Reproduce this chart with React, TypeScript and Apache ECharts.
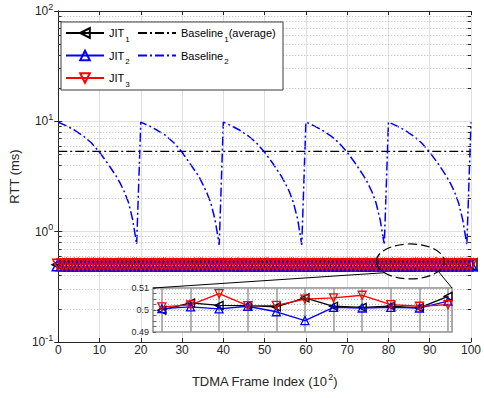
import React, { useEffect, useRef } from "react";
import * as echarts from "echarts";

// TDMA frame index (x 10^2)
const frames = Array.from({ length: 101 }, (_, i) => i);

const jit1 = [
  0.5021, 0.5008, 0.503, 0.5015, 0.4998, 0.5026, 0.5012, 0.5034, 0.5019, 0.5005,
  0.5027, 0.5013, 0.5002, 0.5031, 0.5018, 0.5024, 0.5009, 0.5036, 0.5016, 0.5003,
  0.5022, 0.5029, 0.5011, 0.5017, 0.5033, 0.5006, 0.502, 0.5014, 0.5028, 0.501,
  0.5025, 0.5001, 0.5019, 0.5032, 0.5015, 0.5023, 0.5007, 0.503, 0.5012, 0.5026,
  0.5018, 0.5004, 0.5035, 0.5021, 0.5013, 0.5027, 0.5009, 0.5024, 0.5016, 0.5031,
  0.5006, 0.5022, 0.5014, 0.5029, 0.5011, 0.5033, 0.5019, 0.5002, 0.5025, 0.5017,
  0.5028, 0.501, 0.5023, 0.5015, 0.5034, 0.5008, 0.502, 0.5026, 0.5013, 0.503,
  0.5005, 0.5024, 0.5018, 0.5032, 0.5011, 0.5027, 0.5016, 0.5021, 0.5009, 0.5025,
  0.4999, 0.5032, 0.5021, 0.502, 0.5014, 0.5055, 0.5017, 0.5012, 0.5018, 0.501, 0.5062,
  0.5019, 0.5028, 0.5007, 0.5023, 0.5015, 0.5031, 0.5012, 0.5026, 0.5018, 0.5022,
];
const jit2 = [
  0.5011, 0.5004, 0.5016, 0.4997, 0.5009, 0.5013, 0.5002, 0.5018, 0.5006, 0.4993,
  0.501, 0.5015, 0.5001, 0.5008, 0.4995, 0.5012, 0.5017, 0.5003, 0.5009, 0.5014,
  0.4998, 0.5011, 0.5006, 0.5019, 0.5004, 0.499, 0.5012, 0.5007, 0.5015, 0.5,
  0.5013, 0.5008, 0.4996, 0.5016, 0.5005, 0.5011, 0.5002, 0.5014, 0.4994, 0.5009,
  0.5017, 0.5003, 0.501, 0.5006, 0.4999, 0.5015, 0.5008, 0.5012, 0.4992, 0.5011,
  0.5005, 0.5016, 0.5001, 0.5009, 0.5013, 0.4997, 0.501, 0.5018, 0.5004, 0.5007,
  0.5012, 0.4995, 0.5014, 0.5006, 0.5011, 0.5002, 0.5016, 0.5008, 0.4998, 0.5013,
  0.5009, 0.5015, 0.5003, 0.501, 0.4996, 0.5012, 0.5007, 0.5017, 0.5001, 0.5011,
  0.5006, 0.5014, 0.5005, 0.5017, 0.4992, 0.4952, 0.5012, 0.5009, 0.5012, 0.5009, 0.504,
  0.5008, 0.5013, 0.4999, 0.5011, 0.5004, 0.5016, 0.5007, 0.501, 0.5002, 0.5014,
];
const jit3 = [
  0.5025, 0.5037, 0.5018, 0.5042, 0.5029, 0.5015, 0.5046, 0.5023, 0.5034, 0.5019,
  0.504, 0.5027, 0.5051, 0.5021, 0.5033, 0.5016, 0.5044, 0.5028, 0.5038, 0.5022,
  0.5031, 0.5048, 0.5017, 0.5035, 0.5026, 0.5043, 0.502, 0.5039, 0.5024, 0.5052,
  0.5018, 0.5036, 0.5029, 0.5045, 0.5022, 0.5033, 0.5041, 0.5016, 0.5037, 0.5027,
  0.5049, 0.5021, 0.5034, 0.5025, 0.5043, 0.5019, 0.5038, 0.503, 0.5047, 0.5023,
  0.5035, 0.5018, 0.5044, 0.5028, 0.5039, 0.5021, 0.5032, 0.505, 0.5024, 0.5036,
  0.5019, 0.5041, 0.5027, 0.5046, 0.5022, 0.5034, 0.5017, 0.504, 0.5029, 0.5053,
  0.5024, 0.5037, 0.502, 0.5045, 0.5031, 0.5026, 0.5042, 0.5018, 0.5035, 0.5028,
  0.5014, 0.5023, 0.5074, 0.502, 0.5021, 0.5049, 0.5055, 0.5067, 0.5024, 0.5017, 0.5024,
  0.5039, 0.5022, 0.5044, 0.503, 0.5026, 0.5048, 0.5019, 0.5036, 0.5027, 0.5033,
];

const baseline1X = [0, 100];
const baseline1Y = [5.35, 5.35];

const baseline2X = [
  0, 2, 4, 6, 8, 10, 12, 14, 15, 16, 17, 18, 19,
  20, 22, 24, 26, 28, 30, 32, 34, 35, 36, 37, 38, 39,
  40, 42, 44, 46, 48, 50, 52, 54, 55, 56, 57, 58, 59,
  60, 62, 64, 66, 68, 70, 72, 74, 75, 76, 77, 78, 79,
  80, 82, 84, 86, 88, 90, 92, 94, 95, 96, 97, 98, 99,
  100,
];
const baseline2Y = [
  9.8, 9.1, 8.3, 7.4, 6.4, 5.25, 4.15, 3.2, 2.75, 2.3, 1.85, 1.3, 0.77,
  9.85, 9.1, 8.3, 7.45, 6.4, 5.25, 4.1, 3.2, 2.7, 2.25, 1.8, 1.28, 0.76,
  9.85, 9.1, 8.3, 7.4, 6.4, 5.25, 4.15, 3.2, 2.75, 2.3, 1.82, 1.3, 0.76,
  9.85, 9.1, 8.3, 7.4, 6.4, 5.25, 4.15, 3.2, 2.75, 2.3, 1.82, 1.28, 0.76,
  9.85, 9.1, 8.3, 7.4, 6.4, 5.25, 4.15, 3.2, 2.75, 2.3, 1.82, 1.28, 0.76,
  9.8,
];

const insetFrames = [80, 81, 82, 83, 84, 85, 86, 87, 88, 89, 90];
const insetYLabels = [0.49, 0.5, 0.51];
const yMinor = [
  0.2, 0.3, 0.4, 0.5, 0.6, 0.7, 0.8, 0.9,
  2, 3, 4, 5, 6, 7, 8, 9,
  20, 30, 40, 50, 60, 70, 80, 90,
];

const FONT = "'Liberation Sans', Arial, Helvetica, sans-serif";
const AX = "#262626";

const legendText: Record<string, string> = {
  JIT1: "JIT{sub|1}",
  JIT2: "JIT{sub|2}",
  JIT3: "JIT{sub|3}",
  Baseline1: "Baseline{sub|1}(average)",
  Baseline2: "Baseline{sub|2}",
};

const jitStyles = [
  { name: "JIT1", data: jit1, color: "#000000", rotate: 90, size: 12 },
  { name: "JIT2", data: jit2, color: "#0000ff", rotate: 0, size: 12 },
  { name: "JIT3", data: jit3, color: "#ff0000", rotate: 180, size: 11 },
];

export default function App() {
  const ref = useRef<HTMLDivElement>(null);
  useEffect(() => {
    document.body.style.margin = "0";
    if (!ref.current) return;
    const chart = echarts.init(ref.current, undefined, { renderer: "svg" });

    const legendTextStyle = {
      fontSize: 11,
      fontFamily: FONT,
      color: "#000",
      lineHeight: 12,
      rich: {
        sub: { fontSize: 8, fontFamily: FONT, color: "#000", lineHeight: 10, padding: [12, 0, 0, 1] },
      },
    };

    const mainJit = jitStyles.map((s) => ({
      name: s.name,
      type: "line",
      xAxisIndex: 0,
      yAxisIndex: 0,
      data: frames.map((f, i) => [f, s.data[i]]),
      symbol: "triangle",
      symbolRotate: s.rotate,
      symbolSize: s.size,
      showAllSymbol: true,
      lineStyle: { color: s.color, width: 1.2 },
      itemStyle: { color: "rgba(255,255,255,0)", borderColor: s.color, borderWidth: 1.5 },
      z: 2,
    }));

    const insetJit = jitStyles.map((s) => ({
      name: s.name,
      type: "line",
      xAxisIndex: 2,
      yAxisIndex: 2,
      data: insetFrames.map((f) => [f, s.data[f]]),
      symbol: "triangle",
      symbolRotate: s.rotate,
      symbolSize: 8,
      showAllSymbol: true,
      lineStyle: { color: s.color, width: 1.3 },
      itemStyle: { color: "rgba(255,255,255,0)", borderColor: s.color, borderWidth: 1.3 },
      z: 5,
    }));

    const minorTickLines: any[] = [];
    yMinor.forEach((v) => {
      minorTickLines.push([{ coord: [0, v] }, { coord: [0.8, v] }]);
      minorTickLines.push([{ coord: [99.2, v] }, { coord: [100, v] }]);
    });

    const legendCommon = {
      orient: "vertical",
      top: 23,
      padding: 0,
      itemWidth: 38,
      itemHeight: 12,
      itemGap: 2.5,
      formatter: (n: string) => legendText[n],
      textStyle: legendTextStyle,
      z: 6,
    };

    const option: any = {
      animation: false,
      textStyle: { fontFamily: FONT },
      grid: [
        { left: 50, top: 11, width: 421, height: 331 },
        {
          left: 153,
          top: 288,
          width: 299,
          height: 44,
          show: true,
          backgroundColor: "#ffffff",
          borderColor: "#8c8c8c",
          borderWidth: 1.5,
          z: 3,
        },
      ],
      legend: [
        { ...legendCommon, left: 65, data: ["JIT1", "JIT2", "JIT3"] },
        {
          ...legendCommon,
          left: 137,
          data: [
            { name: "Baseline1", itemStyle: { opacity: 0 } },
            { name: "Baseline2", itemStyle: { opacity: 0 } },
          ],
        },
      ],
      xAxis: [
        {
          gridIndex: 0,
          type: "value",
          min: 0,
          max: 100,
          interval: 10,
          position: "bottom",
          axisLine: { lineStyle: { color: AX } },
          axisTick: { inside: true, length: 4, lineStyle: { color: AX } },
          axisLabel: { fontSize: 12, color: AX, margin: 2, fontFamily: FONT },
          splitLine: { show: true, lineStyle: { color: "#dfdfdf", width: 1 } },
          name: "TDMA Frame Index (10{sup|2})",
          nameLocation: "middle",
          nameGap: 30,
          nameTextStyle: {
            fontSize: 13,
            color: AX,
            fontFamily: FONT,
            rich: { sup: { fontSize: 9, color: AX, fontFamily: FONT, padding: [0, 0, 9, 1] } },
          },
        },
        {
          gridIndex: 0,
          type: "value",
          min: 0,
          max: 100,
          interval: 10,
          position: "top",
          axisLine: { show: true, lineStyle: { color: AX } },
          axisTick: { inside: true, length: 4, lineStyle: { color: AX } },
          axisLabel: { show: false },
          splitLine: { show: false },
        },
        {
          gridIndex: 1,
          type: "value",
          min: 79.69,
          max: 90.14,
          axisLine: { show: false },
          axisTick: { show: false },
          axisLabel: { show: false },
          splitLine: { show: false },
          z: 4,
        },
      ],
      yAxis: [
        {
          gridIndex: 0,
          type: "log",
          logBase: 10,
          min: 0.1,
          max: 100,
          axisLine: { show: true, lineStyle: { color: AX } },
          axisTick: { inside: true, length: 4, lineStyle: { color: AX } },
          axisLabel: {
            fontSize: 12,
            color: AX,
            margin: 5,
            fontFamily: FONT,
            formatter: (v: number) => "10{sup|" + Math.round(Math.log10(v)) + "}",
            rich: { sup: { fontSize: 9, color: AX, fontFamily: FONT, padding: [0, 0, 9, 0] } },
          },
          splitLine: { show: true, lineStyle: { color: "#dfdfdf", width: 1 } },
          name: "RTT (ms)",
          nameLocation: "middle",
          nameGap: 27,
          nameTextStyle: { fontSize: 13, color: AX, fontFamily: FONT },
        },
        {
          gridIndex: 0,
          type: "log",
          logBase: 10,
          min: 0.1,
          max: 100,
          position: "right",
          axisLine: { show: true, lineStyle: { color: AX } },
          axisTick: { inside: true, length: 4, lineStyle: { color: AX } },
          axisLabel: { show: false },
          splitLine: { show: false },
        },
        {
          gridIndex: 1,
          type: "value",
          min: 0.49,
          max: 0.51,
          interval: 0.0025,
          axisLine: { show: false },
          axisTick: { inside: true, length: 3, lineStyle: { color: "#666" } },
          axisLabel: {
            fontSize: 9,
            color: AX,
            margin: 4,
            fontFamily: FONT,
            formatter: (v: number) => {
              const l = insetYLabels.find((x) => Math.abs(x - v) < 1e-6);
              return l === undefined ? "" : String(l);
            },
          },
          splitLine: { show: true, lineStyle: { color: "#b4b4b4", type: [1, 2] } },
          z: 4,
        },
      ],
      series: [
        {
          name: "Baseline1",
          type: "line",
          xAxisIndex: 0,
          yAxisIndex: 0,
          data: baseline1X.map((x, i) => [x, baseline1Y[i]]),
          symbol: "none",
          lineStyle: { color: "#000000", width: 1.3, type: [9, 3, 2, 3] },
          itemStyle: { color: "#000000" },
          z: 2,
          markLine: {
            silent: true,
            symbol: ["none", "none"],
            label: { show: false },
            lineStyle: { color: "#b8b8b8", type: [1, 2], width: 1 },
            data: yMinor.map((v) => ({ yAxis: v })),
          },
        },
        {
          name: "Baseline2",
          type: "line",
          xAxisIndex: 0,
          yAxisIndex: 0,
          data: baseline2X.map((x, i) => [x, baseline2Y[i]]),
          symbol: "none",
          lineStyle: { color: "#0000ff", width: 1.5, type: [9, 3, 2, 3] },
          itemStyle: { color: "#0000ff" },
          z: 2,
          markLine: {
            silent: true,
            symbol: ["none", "none"],
            label: { show: false },
            lineStyle: { color: AX, type: "solid", width: 1 },
            data: minorTickLines,
          },
        },
        ...mainJit,
        {
          name: "insetGrid",
          type: "line",
          xAxisIndex: 2,
          yAxisIndex: 2,
          data: insetFrames.map((f) => [f, jit1[f]]),
          symbol: "none",
          lineStyle: { opacity: 0 },
          z: 4,
          markLine: {
            silent: true,
            symbol: ["none", "none"],
            label: { show: false },
            lineStyle: { color: "#9a9a9a", type: "solid", width: 1.5 },
            data: insetFrames.map((f) => ({ xAxis: f })),
          },
        },
        ...insetJit,
      ],
    };
    chart.setOption(option);

    // zoom annotation: ellipse around frames ~80-90 and connectors to inset
    const c = chart.convertToPixel({ xAxisIndex: 0, yAxisIndex: 0 }, [85.3, 0.537]) as number[];
    const tl = chart.convertToPixel({ xAxisIndex: 2, yAxisIndex: 2 }, [79.69, 0.51]) as number[];
    const tr = chart.convertToPixel({ xAxisIndex: 2, yAxisIndex: 2 }, [90.14, 0.51]) as number[];
    const rx = 34;
    const ry = 17.5;
    const la = Math.acos(-26 / 34);
    const ra = Math.acos(28 / 34);
    chart.setOption({
      graphic: [
        {
          type: "rect",
          shape: { x: 61, y: 22, width: 222, height: 68 },
          style: { fill: "#ffffff", stroke: "#3a3a3a", lineWidth: 1 },
          z: 5,
        },
        {
          type: "ellipse",
          shape: { cx: c[0], cy: c[1], rx, ry },
          style: { fill: "none", stroke: "#000", lineWidth: 1.2, lineDash: [9, 4] },
          z: 6,
        },
        {
          type: "line",
          shape: { x1: tl[0], y1: tl[1], x2: c[0] + rx * Math.cos(la), y2: c[1] + ry * Math.sin(la) },
          style: { stroke: "#000", lineWidth: 1 },
          z: 6,
        },
        {
          type: "line",
          shape: { x1: tr[0], y1: tr[1], x2: c[0] + rx * Math.cos(ra), y2: c[1] + ry * Math.sin(ra) },
          style: { stroke: "#000", lineWidth: 1 },
          z: 6,
        },
      ],
    });

    return () => chart.dispose();
  }, []);
  return <div ref={ref} style={{ width: 484, height: 398 }} />;
}
